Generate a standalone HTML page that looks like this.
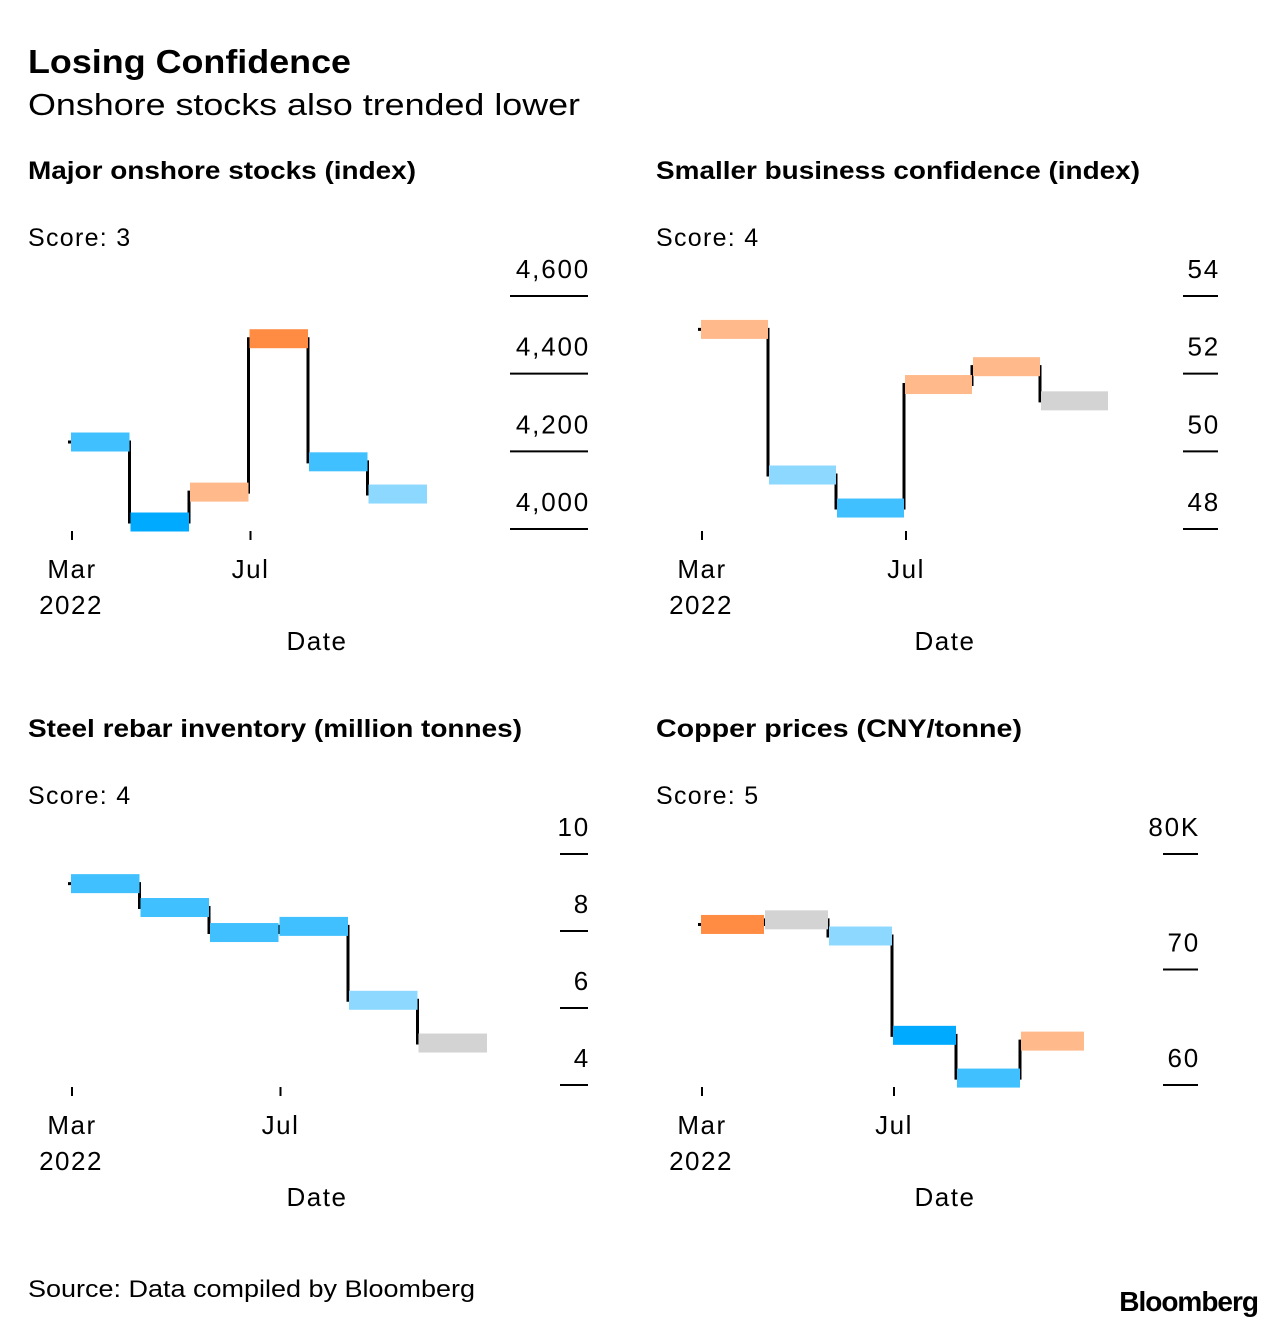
<!DOCTYPE html>
<html><head><meta charset="utf-8"><style>
body{margin:0;background:#fff;}
svg{display:block;font-family:"Liberation Sans",sans-serif;}
</style></head><body>
<svg id="c" width="1286" height="1328" viewBox="0 0 1286 1328" xmlns="http://www.w3.org/2000/svg">
<text x="28" y="73" font-size="33" font-weight="bold" fill="#000" textLength="323" lengthAdjust="spacingAndGlyphs">Losing Confidence</text>
<text x="28" y="115" font-size="31" fill="#000" textLength="552" lengthAdjust="spacingAndGlyphs">Onshore stocks also trended lower</text>
<text x="28" y="1297" font-size="24" fill="#000" textLength="447" lengthAdjust="spacingAndGlyphs">Source: Data compiled by Bloomberg</text>
<text x="1258" y="1311" font-size="28" font-weight="bold" text-anchor="end" fill="#000" letter-spacing="-1">Bloomberg</text>
</svg>
<script>
const C = {o:'#ff8c42',p:'#ffb98a',d:'#00aaff',m:'#40c0ff',l:'#8dd8ff',g:'#d3d3d3'};
const months = ['Mar','Apr','May','Jun','Jul','Aug'];
const stocksValues = [4224, 4018, 4095, 4490, 4173, 4090];
const stocksColors = ['m','d','p','o','m','l'];
const stocksTicks = [4000, 4200, 4400, 4600];
const stocksTickLabels = ['4,000','4,200','4,400','4,600'];
const confValues = [53.14, 49.39, 48.54, 51.72, 52.18, 51.3];
const confColors = ['p','l','m','p','p','g'];
const confTicks = [48, 50, 52, 54];
const confTickLabels = ['48','50','52','54'];
const steelValues = [9.23, 8.61, 7.96, 8.12, 6.2, 5.09];
const steelColors = ['m','m','m','m','l','g'];
const steelTicks = [4, 6, 8, 10];
const steelTickLabels = ['4','6','8','10'];
const copperValues = [73.9, 74.3, 72.9, 64.3, 60.6, 63.8];
const copperColors = ['o','g','l','d','m','p'];
const copperTicks = [60, 70, 80];
const copperTickLabels = ['60','70','80K'];

const svg = document.getElementById('c');
const NS = 'http://www.w3.org/2000/svg';
function mk(tag, attrs, parent){
  const e = document.createElementNS(NS, tag);
  for (const k in attrs) e.setAttribute(k, attrs[k]);
  (parent||svg).appendChild(e); return e;
}
function panel(o){
  const g = mk('g', {});
  
  
  const t = mk('text', {x:o.px, y:o.py, 'font-size':25, 'font-weight':'bold', textLength:o.tl, lengthAdjust:'spacingAndGlyphs'}, g);
  t.textContent = o.title;
  
  
  const s = mk('text', {x:o.px, y:o.py+67, 'font-size':25, 'letter-spacing':1.3}, g);
  s.textContent = o.score;
  
  
  const y = v => o.y1 - (v - o.v0) / (o.v1 - o.v0) * (o.y1 - o.y0);
  const x = i => o.x0 + i * o.bw;
  o.ticks.forEach((tv, i) => {
    const ly = y(tv);
    const ln = mk('line', {x1:o.gx1, x2:o.gx2, y1:ly, y2:ly, stroke:'#000', 'stroke-width':2}, g);
    
    
    const tl = mk('text', {x:o.gx2+2, y:ly-18, 'font-size':26, 'text-anchor':'end', 'letter-spacing':1.8}, g);
    tl.textContent = o.labels[i];
    
    
  });
  let d = 'M' + (x(0)-2) + ' ' + y(o.vals[0]);
  o.vals.forEach((v, i) => {
    if (i > 0) d += ' V' + y(v);
    d += ' H' + (x(i+1) - (i === o.vals.length-1 ? 4 : 0));
  });
  const p = mk('path', {d:d, fill:'none', stroke:'#000', 'stroke-width':3}, g);
  
  
  o.vals.forEach((v, i) => {
    const r = mk('rect', {x:x(i)+1, y:y(v)-9.5, width:o.bw-1, height:19, fill:C[o.cols[i]]}, g);
    
    
  });
  [[0,'Mar'],[3,'Jul']].forEach(([i, lab]) => {
    const tx = x(i) + 2;
    const tk = mk('line', {x1:tx, x2:tx, y1:o.y1+2, y2:o.y1+11, stroke:'#000', 'stroke-width':2}, g);
    
    
    const tl = mk('text', {x:tx, y:o.y1+49, 'font-size':26, 'text-anchor':'middle', 'letter-spacing':1.5}, g);
    tl.textContent = lab;
    
    
  });
  const yr = mk('text', {x:x(0)+1, y:o.y1+85, 'font-size':26, 'text-anchor':'middle', 'letter-spacing':1.5}, g);
  yr.textContent = '2022';
  
  
  const at = mk('text', {x:o.px+289, y:o.y1+121, 'font-size':26, 'text-anchor':'middle', 'letter-spacing':1.5}, g);
  at.textContent = 'Date';
  
  
}
panel({name:'panel-onshore-stocks', title:'Major onshore stocks (index)', tl:388, score:'Score: 3', px:28, py:179,
  vals:stocksValues, cols:stocksColors, ticks:stocksTicks, labels:stocksTickLabels,
  v0:4000, v1:4600, y0:296, y1:529, x0:70, bw:59.5, gx1:510, gx2:588});
panel({name:'panel-business-confidence', title:'Smaller business confidence (index)', tl:484, score:'Score: 4', px:656, py:179,
  vals:confValues, cols:confColors, ticks:confTicks, labels:confTickLabels,
  v0:48, v1:54, y0:296, y1:529, x0:700, bw:68, gx1:1183, gx2:1218});
panel({name:'panel-steel-rebar', title:'Steel rebar inventory (million tonnes)', tl:494, score:'Score: 4', px:28, py:737,
  vals:steelValues, cols:steelColors, ticks:steelTicks, labels:steelTickLabels,
  v0:4, v1:10, y0:854, y1:1085, x0:70, bw:69.5, gx1:560, gx2:588});
panel({name:'panel-copper-prices', title:'Copper prices (CNY/tonne)', tl:366, score:'Score: 5', px:656, py:737,
  vals:copperValues, cols:copperColors, ticks:copperTicks, labels:copperTickLabels,
  v0:60, v1:80, y0:854, y1:1085, x0:700, bw:64, gx1:1163, gx2:1198});
</script>
</body></html>
